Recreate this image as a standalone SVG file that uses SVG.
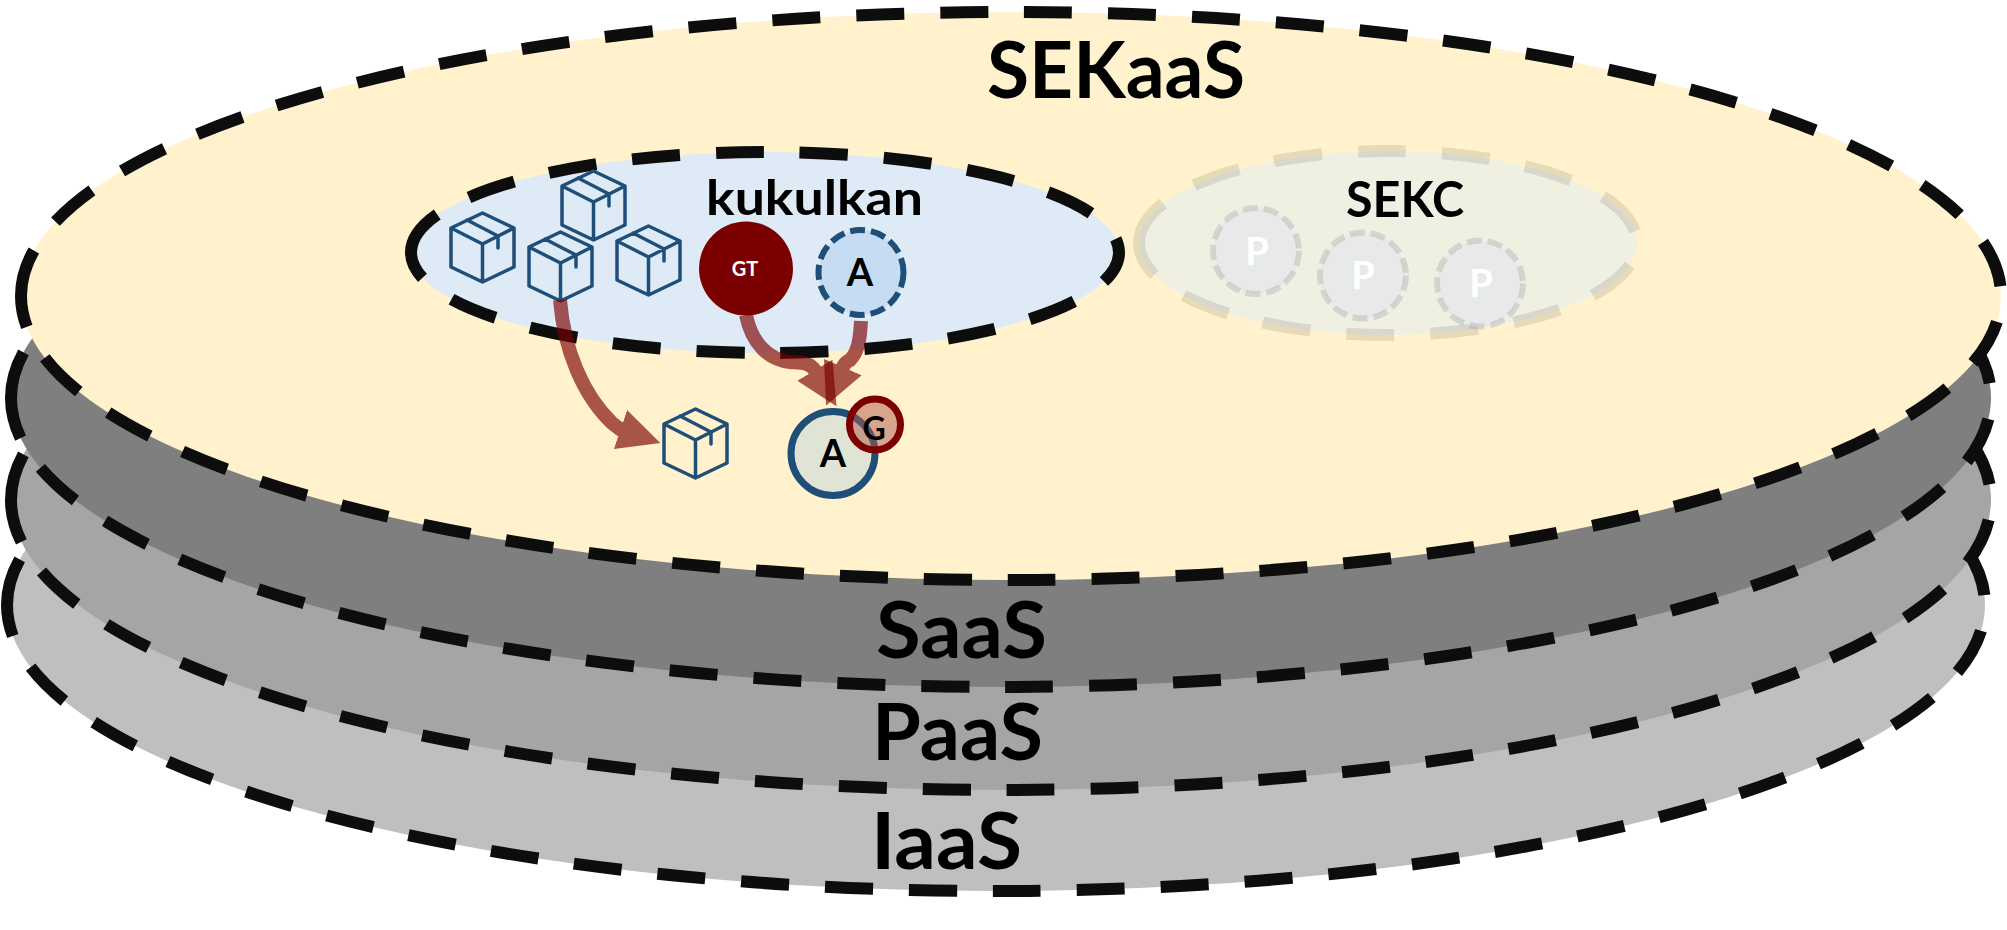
<svg xmlns="http://www.w3.org/2000/svg" width="2007" height="930" viewBox="0 0 2007 930">
<defs>
<style>
.layer{stroke:#0d0d0d;stroke-width:12;stroke-dasharray:48 36}
.t{font-family:Lato,"Open Sans",sans-serif;font-weight:700;fill:#000}
.m{text-anchor:middle}
.big{font-size:78px}
.box{fill:none;stroke:#1f4e79;stroke-width:3.500;stroke-linejoin:round;stroke-linecap:round}
.arrow{fill:none;stroke:#7b0000;stroke-width:14}
.conn{opacity:.65}
.pc{fill:#e7eae8;stroke:#888a88;stroke-opacity:.25;stroke-width:6;stroke-dasharray:15 6}
.pt{font-family:Lato,"Open Sans",sans-serif;font-weight:700;fill:#fff;text-anchor:middle;font-size:38px}
</style>
<g id="boxicon">
<path class="box" d="M0 15L31.500 0L63 15V54L31.500 69L0 54ZM0 15L31.500 31L63 15M31.500 31V69M16 7L47 23V35"/>
</g>
<marker id="head" markerUnits="userSpaceOnUse" markerWidth="44" markerHeight="42" refX="1" refY="21" orient="auto"><path d="M0 0.500L42 21L0 41.500Z" fill="#7b0000"/></marker>
</defs>
<rect width="2007" height="930" fill="#fff"/>
<g id="iaas"><path class="layer" fill="#bfbfbf" d="M7 605A989 286 0 1 1 1985 605A989 286 0 1 1 7 605Z"/><text class="t big" x="871" y="869" textLength="151" lengthAdjust="spacingAndGlyphs">IaaS</text></g>
<g id="paas"><path class="layer" fill="#a5a5a5" d="M11 500A990 290 0 1 1 1991 500A990 290 0 1 1 11 500Z"/><text class="t big" x="872" y="760" textLength="171" lengthAdjust="spacingAndGlyphs">PaaS</text></g>
<g id="saas"><path class="layer" fill="#7f7f7f" d="M11 398A990 289 0 1 1 1991 398A990 289 0 1 1 11 398Z"/><text class="t big" x="876" y="658" textLength="171" lengthAdjust="spacingAndGlyphs">SaaS</text></g>
<g id="sekaas"><path class="layer" fill="#fff2cc" d="M21 296A990 284 0 1 1 2001 296A990 284 0 1 1 21 296Z"/><text class="t big" x="987" y="98" textLength="258" lengthAdjust="spacingAndGlyphs">SEKaaS</text></g>
<g id="kukulkan"><path class="layer" fill="#deebf7" d="M411 252.500A354 100.500 0 1 1 1119 252.500A354 100.500 0 1 1 411 252.500Z"/><text class="t" x="706" y="215" font-size="48" textLength="217" lengthAdjust="spacingAndGlyphs">kukulkan</text></g>
<g id="sekc"><path class="layer" fill="#efefe2" stroke-opacity=".1" d="M1139 243A249 92 0 1 1 1637 243A249 92 0 1 1 1139 243Z"/><text class="t" x="1346" y="217" font-size="50" textLength="118" lengthAdjust="spacingAndGlyphs">SEKC</text></g>
<g id="p1"><circle class="pc" cx="1256" cy="251" r="43"/><text class="pt" x="1257" y="265">P</text></g>
<g id="p2"><circle class="pc" cx="1363" cy="275.500" r="43"/><text class="pt" x="1363" y="289">P</text></g>
<g id="p3"><circle class="pc" cx="1480" cy="283.500" r="43"/><text class="pt" x="1481" y="297">P</text></g>
<g id="box1"><use href="#boxicon" x="451" y="213"/></g>
<g id="box2"><use href="#boxicon" x="529" y="232"/></g>
<g id="box3"><use href="#boxicon" x="562" y="171"/></g>
<g id="box4"><use href="#boxicon" x="617" y="226"/></g>
<g id="box5"><use href="#boxicon" x="664" y="409"/></g>
<g id="gt"><circle cx="746" cy="268.500" r="47" fill="#7b0000"/><text class="t m" x="745" y="276" font-size="20" style="fill:#fff">GT</text></g>
<g id="a-top"><circle cx="861" cy="272.500" r="42.500" fill="#c6dcf2" stroke="#1f4e79" stroke-width="6" stroke-dasharray="15 6"/><text class="t m" x="860" y="286" font-size="38">A</text></g>
<g id="a-bottom"><circle cx="833" cy="453.500" r="42" fill="#dfe4d5" stroke="#1f4e79" stroke-width="7"/><text class="t m" x="833" y="467" font-size="38">A</text></g>
<g id="connectors">
<g class="conn"><path class="arrow" marker-end="url(#head)" d="M560 300C564 350 583 395 612 423L620.500 429.500L621.450 429.820"/></g>
<g class="conn"><path class="arrow" marker-end="url(#head)" d="M746 315C752 345 770 360 790 362C802 363 810 362 815.400 371"/></g>
<g class="conn"><path class="arrow" marker-end="url(#head)" d="M861 321C860 340 858 352 850 360Q845 362 842.400 368"/></g>
</g>
<g id="g-badge"><circle cx="875" cy="424.500" r="25.500" fill="#b1584c" fill-opacity=".5" stroke="#7b0000" stroke-width="7"/><text class="t m" x="874" y="440" font-size="32">G</text></g>
</svg>
